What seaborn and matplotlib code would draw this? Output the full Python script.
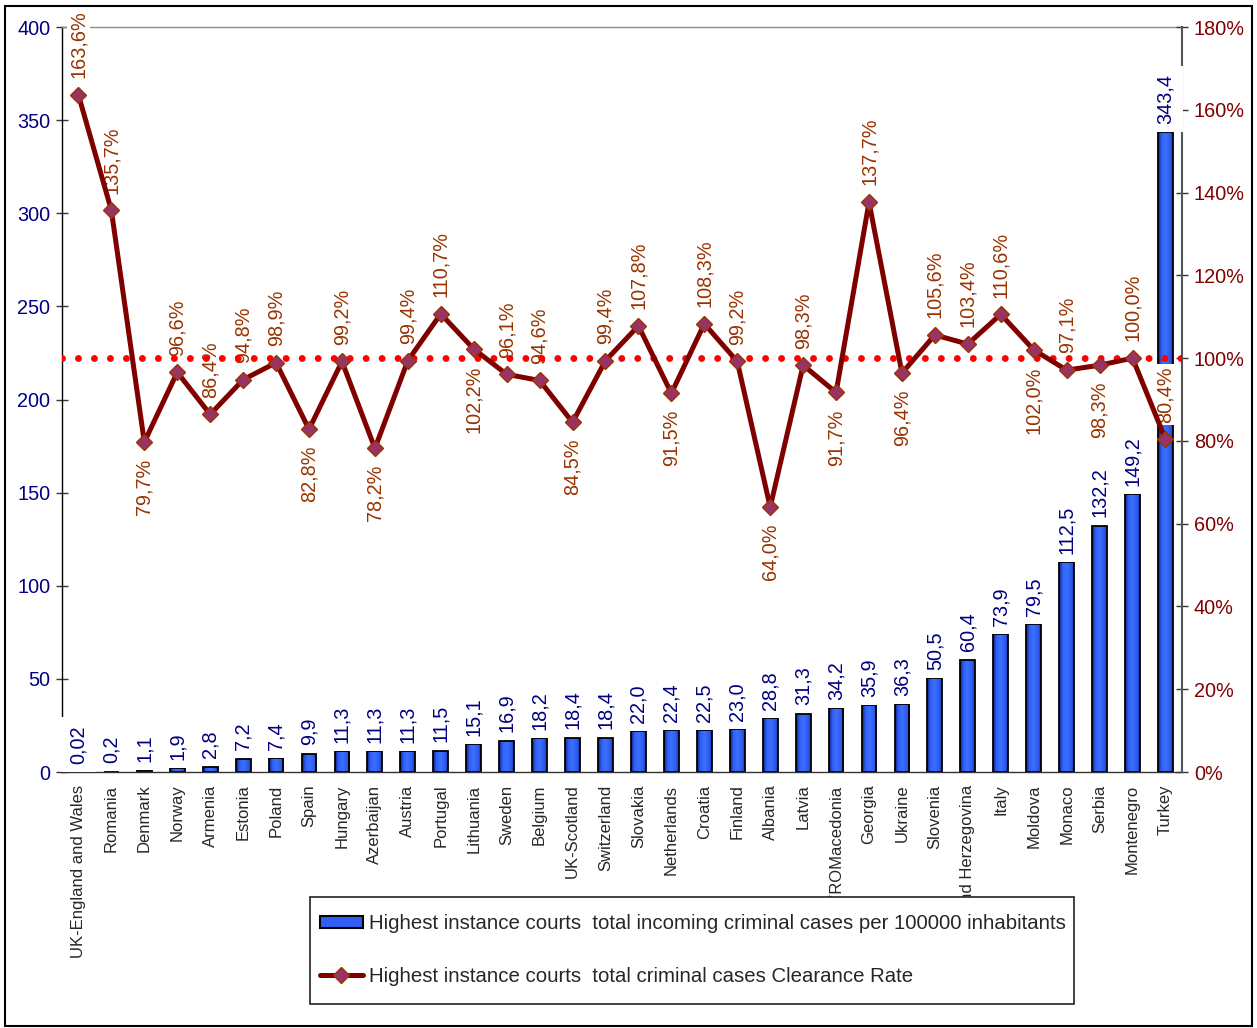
import numpy as np
import pandas as pd
import matplotlib
matplotlib.use("Agg")
import matplotlib.pyplot as plt
import seaborn as sns
from matplotlib.colors import LinearSegmentedColormap
from matplotlib.lines import Line2D
from matplotlib.patches import Patch, Rectangle

# ---- data -------------------------------------------------------------
countries = [
    "UK-England and Wales", "Romania", "Denmark", "Norway", "Armenia",
    "Estonia", "Poland", "Spain", "Hungary", "Azerbaijan", "Austria",
    "Portugal", "Lithuania", "Sweden", "Belgium", "UK-Scotland",
    "Switzerland", "Slovakia", "Netherlands", "Croatia", "Finland",
    "Albania", "Latvia", "FYROMacedonia", "Georgia", "Ukraine", "Slovenia",
    "Bosnia and Herzegovina", "Italy", "Moldova", "Monaco", "Serbia",
    "Montenegro", "Turkey",
]
cases_per_100k = [
    0.02, 0.2, 1.1, 1.9, 2.8, 7.2, 7.4, 9.9, 11.3, 11.3, 11.3, 11.5, 15.1,
    16.9, 18.2, 18.4, 18.4, 22.0, 22.4, 22.5, 23.0, 28.8, 31.3, 34.2, 35.9,
    36.3, 50.5, 60.4, 73.9, 79.5, 112.5, 132.2, 149.2, 343.4,
]
clearance_rate = [
    163.6, 135.7, 79.7, 96.6, 86.4, 94.8, 98.9, 82.8, 99.2, 78.2, 99.4,
    110.7, 102.2, 96.1, 94.6, 84.5, 99.4, 107.8, 91.5, 108.3, 99.2, 64.0,
    98.3, 91.7, 137.7, 96.4, 105.6, 103.4, 110.6, 102.0, 97.1, 98.3,
    100.0, 80.4,
]
# where each clearance-rate label sits relative to its marker
rate_label_above = [
    True, True, False, True, True, True, True, False, True, False, True,
    True, False, True, True, False, True, True, False, True, True, False,
    True, False, True, False, True, True, True, False, True, False,
    True, True,
]
reference_rate = 100.0
bar_legend = "Highest instance courts  total incoming criminal cases per 100000 inhabitants"
line_legend = "Highest instance courts  total criminal cases Clearance Rate"

# ---- style --------------------------------------------------------------
sns.set_style("white")
plt.rcParams["font.family"] = ["Liberation Sans", "DejaVu Sans"]

NAVY = "#000080"
DARK_RED = "#800000"
RATE_TEXT = "#993300"
MARKER_FACE = "#993366"
BAR_BLUE = "#3366ff"

df = pd.DataFrame({"country": countries, "cases": cases_per_100k,
                   "rate": clearance_rate})
pos = np.arange(len(countries))

fig = plt.figure(figsize=(12.57, 10.28), dpi=100)
ax = fig.add_axes([0.0493, 0.249, 0.8910, 0.7247])

sns.barplot(data=df, x="country", y="cases", ax=ax, color=BAR_BLUE,
            saturation=1, width=0.45, edgecolor="black", linewidth=1.3,
            zorder=2)

# horizontal gradient fill inside each bar
grad_cmap = LinearSegmentedColormap.from_list(
    "bar_grad",
    [(0.0, "#0a1e80"), (0.22, "#2f5ef5"), (0.5, "#3d70ff"),
     (0.8, "#2d5cf0"), (1.0, "#1a3cb8")])
grad = np.linspace(0, 1, 64).reshape(1, -1)
for patch in list(ax.patches):
    x0, y0 = patch.get_x(), patch.get_y()
    w, h = patch.get_width(), patch.get_height()
    if h <= 0:
        continue
    im = ax.imshow(grad, extent=[x0, x0 + w, y0, y0 + h], aspect="auto",
                   cmap=grad_cmap, zorder=1.5, interpolation="bilinear")
    im.set_clip_path(patch)
    patch.set_facecolor("none")

ax.set_xlim(-0.5, len(countries) - 0.5)
ax.set_ylim(0, 400)
ax.set_yticks(range(0, 401, 50))
ax.set_xlabel("")
ax.set_ylabel("")
ax.set_xticks(pos)
ax.set_xticklabels(countries, rotation=90, fontsize=12, va="top")
ax.set_xticks(np.arange(-0.5, len(countries), 1), minor=True)
ax.tick_params(axis="x", which="major", length=0, pad=9)
ax.tick_params(axis="x", which="minor", direction="inout", length=9,
               width=1, color="#333333")
ax.tick_params(axis="y", direction="inout", length=9, width=1,
               color="#333333", labelcolor=NAVY, labelsize=14.3, pad=4)
ax.grid(False)
ax.spines["left"].set_color("black")
ax.spines["left"].set_linewidth(1.0)
ax.spines["bottom"].set_color("#333333")
ax.spines["bottom"].set_linewidth(1.0)
ax.spines["top"].set_color("#8c8c8c")
ax.spines["top"].set_linewidth(1.0)
ax.spines["right"].set_visible(False)

# ---- clearance rate on the secondary axis -----------------------------
ax2 = ax.twinx()
sns.lineplot(x=pos, y=df["rate"].to_numpy(), ax=ax2, color=DARK_RED, lw=3.6,
             marker="D", markersize=8.5, markerfacecolor=MARKER_FACE,
             markeredgecolor=RATE_TEXT, markeredgewidth=1.0, zorder=5,
             legend=False)
ax2.axhline(reference_rate, color="#ff0000", lw=5.0,
            linestyle=(0, (0.001, 2.3)), dash_capstyle="round", zorder=4)
ax2.set_ylim(0, 180)
ax2.set_yticks(range(0, 181, 20))
ax2.yaxis.set_major_formatter(lambda v, p: f"{v:.0f}%")
ax2.tick_params(axis="y", direction="inout", length=9, width=1,
                color="#333333", labelcolor=DARK_RED, labelsize=14.3, pad=4)
ax2.set_ylabel("")
ax2.grid(False)
for side in ("left", "top", "bottom"):
    ax2.spines[side].set_visible(False)
ax2.spines["right"].set_color("#555555")
ax2.spines["right"].set_linewidth(1.5)

# value labels on the bars
bar_box = dict(boxstyle="square,pad=0.4", fc="white", ec="none")
for xi, v in zip(pos, cases_per_100k):
    txt = (f"{v:.2f}" if v < 0.1 else f"{v:.1f}").replace(".", ",")
    ax2.annotate(txt, (xi, v), xycoords=ax.transData, xytext=(0, 6),
                 textcoords="offset points", rotation=90, ha="center",
                 va="bottom", color=NAVY, fontsize=14.3, bbox=bar_box,
                 zorder=3)

# rate labels next to the markers
rate_box = dict(boxstyle="square,pad=0.12", fc="white", ec="none")
for xi, v, above in zip(pos, clearance_rate, rate_label_above):
    txt = f"{v:.1f}%".replace(".", ",")
    ax2.annotate(txt, (xi, v), xytext=(0, 12 if above else -12),
                 textcoords="offset points", rotation=90, ha="center",
                 va="bottom" if above else "top", color=RATE_TEXT,
                 fontsize=14.3, bbox=rate_box, zorder=3)

# ---- legend -------------------------------------------------------------
fig.add_artist(Rectangle((0.2466, 0.0233), 0.6078, 0.1041,
                         transform=fig.transFigure, facecolor="white",
                         edgecolor="#222222", linewidth=1.2, zorder=4))
handles = [
    Patch(facecolor="#2f5ef5", edgecolor="black", linewidth=1.5),
    Line2D([], [], color=DARK_RED, lw=3.6, marker="D", markersize=8.5,
           markerfacecolor=MARKER_FACE, markeredgecolor=RATE_TEXT),
]
leg = fig.legend(handles, [bar_legend, line_legend], loc="center left",
                 bbox_to_anchor=(0.2546, 0.0759), frameon=False,
                 fontsize=14.7, handlelength=2.1, handleheight=0.5,
                 labelspacing=1.65, handletextpad=0.3, borderpad=0,
                 borderaxespad=0)
leg.set_zorder(5)

# outer chart border
fig.add_artist(Rectangle((0.004, 0.002), 0.992, 0.992,
                         transform=fig.transFigure, fill=False,
                         edgecolor="black", linewidth=1.5))

fig.savefig("out.png", dpi=100)
